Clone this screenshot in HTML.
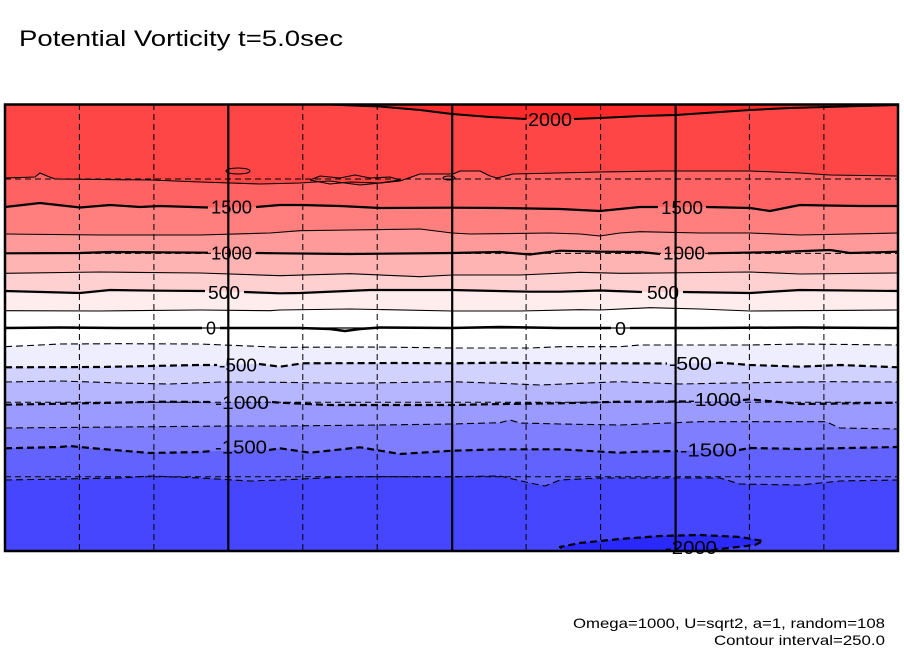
<!DOCTYPE html>
<html><head><meta charset="utf-8"><style>
html,body{margin:0;padding:0;background:#fff;}
svg{display:block;}
text{font-family:"Liberation Sans",sans-serif;fill:#000;}
</style></head><body>
<svg width="904" height="654" viewBox="0 0 904 654" xmlns="http://www.w3.org/2000/svg">
<defs><clipPath id="c"><rect x="5" y="104.5" width="893" height="446.5"/></clipPath></defs>
<rect width="904" height="654" fill="#fff"/>
<g clip-path="url(#c)">
<rect x="5" y="104" width="893" height="447" fill="#ff4646"/>
<polygon fill="#ff2a2a" points="323,104 340,105 380,106.5 420,110 452,114 490,117 526,119 550,119.5 574,119 600,118 640,116 676,115 720,112 750,110 790,108 826,107 860,106 898,105 898,104"/>
<polygon fill="#ff6262" points="5,178 35,177 40,173 47,176 55,179 150,180 200,182 260,184 300,183 330,181 360,185 400,181 420,174 453,174 460,171 480,171 490,176 497,178 505,176 513,174 600,172 660,171 750,171 800,173 830,175 898,176 898,551 5,551"/>
<polygon fill="#ff7e7e" points="5,207 40,203 80,207.5 110,205 140,207 160,206 208,207.5 230,207.5 256,207 280,205 300,205 340,206 380,208 452,207.7 500,208 560,209 600,211 620,209 640,207 658,207 680,207 706,207 750,208 770,211 785,208 800,205 826,205.5 860,206 898,206 898,551 5,551"/>
<polygon fill="#ff9a9a" points="5,234 100,235 200,235 270,233 300,230.7 350,230 420,229 452,233 470,234 550,233 580,234 600,236 620,233 640,231.7 700,233 750,233 800,235 898,233 898,551 5,551"/>
<polygon fill="#ffb4b4" points="5,253.3 80,253 110,252 208,252.7 230,253 256,253 280,253.3 350,254 452,253 500,252 530,254.5 560,250.7 600,251.7 640,252 660,254 685,253.5 708,253.3 780,252 830,250 850,253 898,251.7 898,551 5,551"/>
<polygon fill="#ffd0d0" points="5,273.3 100,272 200,273 280,275.7 350,273.7 420,276.7 452,275 520,275 580,272.3 620,273.3 660,273 750,272 800,274 898,273 898,551 5,551"/>
<polygon fill="#ffecec" points="5,291 80,293 110,290 160,290.7 205,291 225,291.5 244,292 280,293.3 300,293 370,290 452,290 530,291.7 560,291.7 600,290.5 642,292 662,292 683,292 750,293 800,290 898,291 898,551 5,551"/>
<polygon fill="#ffffff" points="5,310.7 100,311 200,310 270,310.7 280,310 350,309 452,311 520,311 580,309.7 600,310 650,307.7 700,309 750,311 898,310 898,551 5,551"/>
<polygon fill="#eeeeff" points="5,346.7 60,344 120,343.7 200,344 280,347.3 380,347 452,348 530,348 560,346.7 620,346.7 640,345 680,345 750,345 800,344 898,345 898,551 5,551"/>
<polygon fill="#d2d2ff" points="5,367.3 100,367 200,365 219,365 257,364 280,366.7 303,363.3 400,363 452,363.3 500,362.7 560,363.3 600,363.3 620,363.3 668,363.5 714,363 720,362.7 750,365 800,366.7 840,365 898,367.3 898,551 5,551"/>
<polygon fill="#b6b6ff" points="5,382 60,381 120,383 170,384 220,382 280,382.3 350,383.3 452,381.7 500,383.3 540,385 580,383.3 620,381.7 680,384 750,382.7 830,381.7 898,382 898,551 5,551"/>
<polygon fill="#9a9aff" points="5,404.7 100,403 160,401.7 212,402 270,402 280,402.7 330,405 452,405 500,404 560,403.3 620,401.7 688,401.5 742,400 750,399.3 800,404 898,402.7 898,551 5,551"/>
<polygon fill="#7e7eff" points="5,428 120,427 230,426 280,426 380,425 452,424 500,422.7 510,420 520,423 560,424 620,425 700,421.7 826,421.7 840,428 898,429 898,551 5,551"/>
<polygon fill="#6262ff" points="5,448.3 60,447 70,446 90,448 150,453 200,452 214,451 268,450 280,448.3 310,452.7 360,447.3 400,454 452,450.7 500,449.3 560,449.3 620,452.7 640,451.7 678,451 738,450 750,448 800,449 898,447 898,551 5,551"/>
<polygon fill="#4646ff" points="5,480 120,478 150,476 200,478 250,481 280,480 350,476.7 452,476.7 500,476 530,483 545,486 560,480 600,478 660,478 720,478 740,484 800,485 840,481 898,480 898,551 5,551"/>
<polygon fill="#2a2aff" points="560,547 580,543 620,539 660,536 700,535 740,537 763,541 755,545 720,549 700,552 600,552 565,550"/>

<!-- grid -->
<g stroke="#000" stroke-width="1" stroke-dasharray="6 4" fill="none">
<line x1="79.4" y1="104" x2="79.4" y2="551"/>
<line x1="153.9" y1="104" x2="153.9" y2="551"/>
<line x1="302.8" y1="104" x2="302.8" y2="551"/>
<line x1="377.2" y1="104" x2="377.2" y2="551"/>
<line x1="526.1" y1="104" x2="526.1" y2="551"/>
<line x1="600.6" y1="104" x2="600.6" y2="551"/>
<line x1="749.4" y1="104" x2="749.4" y2="551"/>
<line x1="823.9" y1="104" x2="823.9" y2="551"/>
<line x1="5" y1="179" x2="898" y2="179"/>
<line x1="5" y1="253.4" x2="898" y2="253.4"/>
<line x1="5" y1="402.3" x2="898" y2="402.3"/>
<line x1="5" y1="476.8" x2="898" y2="476.8"/>
</g>
<g stroke="#000" stroke-width="2.2">
<line x1="228.3" y1="104" x2="228.3" y2="551"/>
<line x1="452.2" y1="104" x2="452.2" y2="551"/>
<line x1="675.6" y1="104" x2="675.6" y2="551"/>
<line x1="5" y1="328" x2="898" y2="328" stroke-width="1.2"/>
</g>

<!-- positive contours -->
<g stroke="#000" fill="none" stroke-linejoin="round">
<polyline stroke-width="2" points="323,104 340,105 380,106.5 420,110 452,114 490,117 526,119"/>
<polyline stroke-width="2" points="574,119 600,118 640,116 676,115 720,112 750,110 790,108 826,107 860,106 898,105"/>
<polyline stroke-width="1.1" points="5,178 35,177 40,173 47,176 55,179 150,180 200,182 260,184 300,183 330,181 360,185 400,181 420,174 453,174 460,171 480,171 490,176 497,178 505,176 513,174 600,172 660,171 750,171 800,173 830,175 898,176"/>
<polyline stroke-width="1.1" points="310,180 320,176 340,178 355,175 370,178 390,177 400,180 380,183 350,182 330,184 310,180"/>
<ellipse cx="238" cy="171" rx="12" ry="3" stroke-width="1.1"/>
<ellipse cx="449" cy="178" rx="6" ry="2" stroke-width="1.1"/>
<polyline stroke-width="2.2" points="5,207 40,203 80,207.5 110,205 140,207 160,206 208,207.5"/>
<polyline stroke-width="2.2" points="256,207 280,205 300,205 340,206 380,208 452,207.7 500,208 560,209 600,211 620,209 640,207 658,207"/>
<polyline stroke-width="2.2" points="706,207 750,208 770,211 785,208 800,205 826,205.5 860,206 898,206"/>
<polyline stroke-width="1.1" points="5,234 100,235 200,235 270,233 300,230.7 350,230 420,229 452,233 470,234 550,233 580,234 600,236 620,233 640,231.7 700,233 750,233 800,235 898,233"/>
<polyline stroke-width="2.2" points="5,253.3 80,253 110,252 208,252.7"/>
<polyline stroke-width="2.2" points="256,253 280,253.3 350,254 452,253 500,252 530,254.5 560,250.7 600,251.7 640,252 660,254"/>
<polyline stroke-width="2.2" points="708,253.3 780,252 830,250 850,253 898,251.7"/>
<polyline stroke-width="1.1" points="5,273.3 100,272 200,273 280,275.7 350,273.7 420,276.7 452,275 520,275 580,272.3 620,273.3 660,273 750,272 800,274 898,273"/>
<polyline stroke-width="2.2" points="5,291 80,293 110,290 160,290.7 205,291"/>
<polyline stroke-width="2.2" points="244,292 280,293.3 300,293 370,290 452,290 530,291.7 560,291.7 600,290.5 642,292"/>
<polyline stroke-width="2.2" points="683,292 750,293 800,290 898,291"/>
<polyline stroke-width="1.1" points="5,310.7 100,311 200,310 270,310.7 280,310 350,309 452,311 520,311 580,309.7 600,310 650,307.7 700,309 750,311 898,310"/>
<polyline stroke-width="2.5" points="5,328 60,327.5 120,328 180,328 202,328"/>
<polyline stroke-width="2.5" points="220,328 300,328 330,329 345,331 360,329 380,327.5 452,328 500,327 560,328 611,328"/>
<polyline stroke-width="2.5" points="630,328 700,328 800,327.5 898,328"/>
</g>

<!-- negative contours -->
<g stroke="#000" fill="none" stroke-dasharray="7 4" stroke-linejoin="round">
<polyline stroke-width="1.1" points="5,346.7 60,344 120,343.7 200,344 280,347.3 380,347 452,348 530,348 560,346.7 620,346.7 640,345 680,345 750,345 800,344 898,345"/>
<polyline stroke-width="2.2" points="5,367.3 100,367 200,365 217,365"/>
<polyline stroke-width="2.2" points="259,364 280,366.7 303,363.3 400,363 452,363.3 500,362.7 560,363.3 600,363.3 620,363.3 667,363.5"/>
<polyline stroke-width="2.2" points="716,363 720,362.7 750,365 800,366.7 840,365 898,367.3"/>
<polyline stroke-width="1.1" points="5,382 60,381 120,383 170,384 220,382 280,382.3 350,383.3 452,381.7 500,383.3 540,385 580,383.3 620,381.7 680,384 750,382.7 830,381.7 898,382"/>
<polyline stroke-width="2.2" points="5,404.7 100,403 160,401.7 212,402"/>
<polyline stroke-width="2.2" points="272,402 280,402.7 330,405 452,405 500,404 560,403.3 620,401.7 686,401.5"/>
<polyline stroke-width="2.2" points="743,400 750,399.3 800,404 898,402.7"/>
<polyline stroke-width="1.1" points="5,428 120,427 230,426 280,426 380,425 452,424 500,422.7 510,420 520,423 560,424 620,425 700,421.7 826,421.7 840,428 898,429"/>
<polyline stroke-width="2.2" points="5,448.3 60,447 70,446 90,448 150,453 200,452 213,451"/>
<polyline stroke-width="2.2" points="269,450 280,448.3 310,452.7 360,447.3 400,454 452,450.7 500,449.3 560,449.3 620,452.7 640,451.7 678,451"/>
<polyline stroke-width="2.2" points="739,450 750,448 800,449 898,447"/>
<polyline stroke-width="1.1" points="5,480 120,478 150,476 200,478 250,481 280,480 350,476.7 452,476.7 500,476 530,483 545,486 560,480 600,478 660,478 720,478 740,484 800,485 840,481 898,480"/>
<polyline stroke-width="2.2" points="700,552 720,549 755,545 763,541 740,537 700,535 660,536 620,539 580,543 560,547 565,550"/>
</g>

<!-- labels -->
<g font-size="18">
<text x="528" y="126" textLength="44" lengthAdjust="spacingAndGlyphs">2000</text>
<text x="211" y="213.5" textLength="41" lengthAdjust="spacingAndGlyphs">1500</text>
<text x="661" y="214" textLength="42" lengthAdjust="spacingAndGlyphs">1500</text>
<text x="211" y="259.5" textLength="41" lengthAdjust="spacingAndGlyphs">1000</text>
<text x="663" y="259.5" textLength="42" lengthAdjust="spacingAndGlyphs">1000</text>
<text x="208" y="299" textLength="32" lengthAdjust="spacingAndGlyphs">500</text>
<text x="647" y="299" textLength="32" lengthAdjust="spacingAndGlyphs">500</text>
<text x="206" y="334.5" textLength="10" lengthAdjust="spacingAndGlyphs">0</text>
<text x="615" y="335" textLength="11" lengthAdjust="spacingAndGlyphs">0</text>
<text x="219" y="371.5" textLength="38" lengthAdjust="spacingAndGlyphs">-500</text>
<text x="669" y="370" textLength="43" lengthAdjust="spacingAndGlyphs">-500</text>
<text x="215" y="409" textLength="54" lengthAdjust="spacingAndGlyphs">-1000</text>
<text x="688" y="406" textLength="53" lengthAdjust="spacingAndGlyphs">-1000</text>
<text x="215" y="453.5" textLength="52" lengthAdjust="spacingAndGlyphs">-1500</text>
<text x="680" y="456.5" textLength="57" lengthAdjust="spacingAndGlyphs">-1500</text>
</g>
</g>
<text x="665" y="554" font-size="18" textLength="52" lengthAdjust="spacingAndGlyphs">-2000</text>
<rect x="5" y="104.5" width="893" height="446.5" fill="none" stroke="#000" stroke-width="2.5"/>

<text x="19" y="46" font-size="22" textLength="324" lengthAdjust="spacingAndGlyphs">Potential Vorticity t=5.0sec</text>
<text x="573" y="628" font-size="14" textLength="312" lengthAdjust="spacingAndGlyphs">Omega=1000, U=sqrt2, a=1, random=108</text>
<text x="714" y="645" font-size="14" textLength="171" lengthAdjust="spacingAndGlyphs">Contour interval=250.0</text>
</svg>
</body></html>
